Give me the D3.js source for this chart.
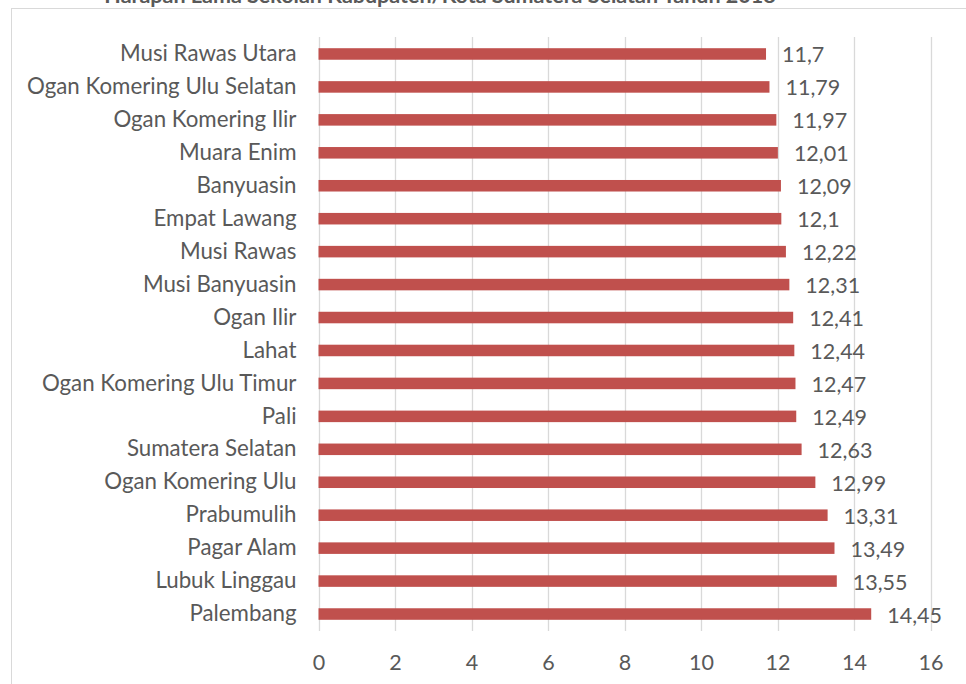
<!DOCTYPE html>
<html>
<head>
<meta charset="utf-8">
<script src="https://cdn.jsdelivr.net/npm/d3@7"></script>
<style>
html,body{margin:0;padding:0;background:#fff;}
svg{display:block;}
</style>
</head>
<body>
<svg id="chart" width="966" height="684"></svg>
<script>
const categories = ["Musi Rawas Utara","Ogan Komering Ulu Selatan","Ogan Komering Ilir","Muara Enim","Banyuasin","Empat Lawang","Musi Rawas","Musi Banyuasin","Ogan Ilir","Lahat","Ogan Komering Ulu Timur","Pali","Sumatera Selatan","Ogan Komering Ulu","Prabumulih","Pagar Alam","Lubuk Linggau","Palembang"];
const values = [11.7,11.79,11.97,12.01,12.09,12.1,12.22,12.31,12.41,12.44,12.47,12.49,12.63,12.99,13.31,13.49,13.55,14.45];
const valueLabels = ["11,7","11,79","11,97","12,01","12,09","12,1","12,22","12,31","12,41","12,44","12,47","12,49","12,63","12,99","13,31","13,49","13,55","14,45"];
const xTicks = [0,2,4,6,8,10,12,14,16];
const title = "Harapan Lama Sekolah Kabupaten/Kota Sumatera Selatan Tahun 2018";

const svg = d3.select("#chart");
const font = "Lato, 'Open Sans', sans-serif";
const textColor = "#595959";

// chart border
svg.append("rect").attr("x",11.5).attr("y",8.5).attr("width",1000).attr("height",1000)
  .attr("fill","none").attr("stroke","#D9D9D9").attr("stroke-width",1);

// cropped title (cut off at the top, as in the reference)
svg.append("text").attr("x",440).attr("y",3).attr("text-anchor","middle")
  .attr("font-family",font).attr("font-weight","bold").attr("font-size",21.5)
  .attr("fill",textColor).text(title);

const x = d3.scaleLinear().domain([0,16]).range([318.5,930.5]);
const y = d3.scaleBand().domain(categories).range([37.5,630.5]).paddingInner(0.65).paddingOuter(0.325);

// gridlines
svg.append("g").selectAll("line").data(xTicks).join("line")
  .attr("x1",d=>Math.round(x(d))+0.5).attr("x2",d=>Math.round(x(d))+0.5)
  .attr("y1",37).attr("y2",631)
  .attr("stroke","#D9D9D9").attr("stroke-width",1.3);

// x axis labels
const xAxis = d3.axisBottom(x).tickValues(xTicks).tickSize(0).tickPadding(0).tickFormat(d3.format("d"));
const gx = svg.append("g").attr("transform","translate(0,662)").call(xAxis);
gx.select(".domain").remove();
gx.selectAll("text").attr("font-family",font).attr("font-size",21.5).attr("fill",textColor).attr("dy","0.35em").attr("y",0);

// y axis labels
const yAxis = d3.axisLeft(y).tickSize(0).tickPadding(22);
const gy = svg.append("g").attr("transform","translate(318.5,0)").call(yAxis);
gy.select(".domain").remove();
gy.selectAll("text").attr("font-family",font).attr("font-size",22.3).attr("fill",textColor);

// bars
svg.append("g").selectAll("rect").data(values).join("rect")
  .attr("x",x(0)).attr("y",(d,i)=>y(categories[i]))
  .attr("width",d=>x(d)-x(0)).attr("height",y.bandwidth())
  .attr("fill","#C0504D");

// value labels
svg.append("g").selectAll("text").data(values).join("text")
  .attr("x",d=>x(d)+16).attr("y",(d,i)=>y(categories[i])+y.bandwidth()/2+1)
  .attr("dy","0.35em").attr("font-family",font).attr("font-size",21.5).attr("fill",textColor)
  .text((d,i)=>valueLabels[i]);
</script>
</body>
</html>
